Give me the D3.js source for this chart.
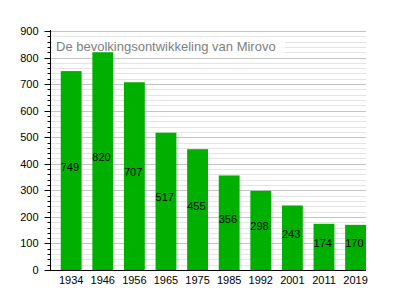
<!DOCTYPE html>
<html><head><meta charset="utf-8">
<script src="https://cdn.jsdelivr.net/npm/d3@7"></script>
<style>body{margin:0;background:#fff}svg{display:block;font-family:"Liberation Sans",Arial,sans-serif}</style>
</head><body>
<script>
const years = ["1934","1946","1956","1965","1975","1985","1992","2001","2011","2019"];
const population = [749,820,707,517,455,356,298,243,174,170];
const yTicks = [0,100,200,300,400,500,600,700,800,900];
const title = "De bevolkingsontwikkeling van Mirovo";

const W=395,H=300,L=50,R=366,T=31,B=270;
const svg=d3.select("body").append("svg").attr("width",W).attr("height",H);
const y=d3.scaleLinear().domain([0,900]).range([B,T]);
const x=d3.scaleBand().domain(years).range([L,R]).paddingInner(0).paddingOuter(0);
const bw=x.bandwidth();

// minor grid
const minor=d3.range(0,901,20).filter(v=>v%100!==0);
svg.append("g").selectAll("line").data(minor).join("line")
 .attr("x1",L).attr("x2",R).attr("y1",d=>Math.round(y(d))+0.5).attr("y2",d=>Math.round(y(d))+0.5)
 .attr("stroke","#e4e4e4").attr("stroke-width",1);
svg.append("g").selectAll("line").data(yTicks.slice(1)).join("line")
 .attr("x1",L).attr("x2",R).attr("y1",d=>Math.round(y(d))+0.5).attr("y2",d=>Math.round(y(d))+0.5)
 .attr("stroke","#c4c4c4").attr("stroke-width",1);

// title
svg.append("rect").attr("x",L+3).attr("y",38).attr("width",232).attr("height",18).attr("fill","#fff").attr("opacity",0.8);
svg.append("text").attr("x",L+6).attr("y",51).attr("font-size",13).attr("fill","#808080").text(title);

// bars
svg.append("g").selectAll("rect").data(population).join("rect")
 .attr("x",(d,i)=>x(years[i])+bw*0.34).attr("width",bw*0.66)
 .attr("y",d=>y(d)).attr("height",d=>B-y(d)).attr("fill","#00b000");
svg.append("g").selectAll("text").data(population).join("text")
 .attr("x",(d,i)=>x(years[i])+bw*0.34).attr("y",d=>(y(d)+B)/2)
 .attr("font-size",11).attr("fill","#000").text(d=>d);

// y axis
const ax=svg.append("g").attr("transform",`translate(${L+0.5},0)`);
ax.append("line").attr("y1",T-1).attr("y2",B).attr("stroke","#000");
ax.selectAll(".maj").data(yTicks).join("line").attr("x1",-6).attr("x2",0)
 .attr("y1",d=>Math.round(y(d))+0.5).attr("y2",d=>Math.round(y(d))+0.5).attr("stroke","#000");
ax.selectAll(".min").data(minor).join("line").attr("x1",-3).attr("x2",0)
 .attr("y1",d=>Math.round(y(d))+0.5).attr("y2",d=>Math.round(y(d))+0.5).attr("stroke","#000");
ax.selectAll("text").data(yTicks).join("text").attr("x",-12).attr("y",d=>y(d)+4)
 .attr("text-anchor","end").attr("font-size",11).text(d=>d);

// x axis
svg.append("line").attr("x1",45).attr("x2",R).attr("y1",B+0.5).attr("y2",B+0.5).attr("stroke","#000");
svg.append("g").selectAll("text").data(years).join("text")
 .attr("x",d=>x(d)+bw*0.34+bw*0.33).attr("y",B+14).attr("text-anchor","middle").attr("font-size",11).text(d=>d);
</script>
</body></html>
